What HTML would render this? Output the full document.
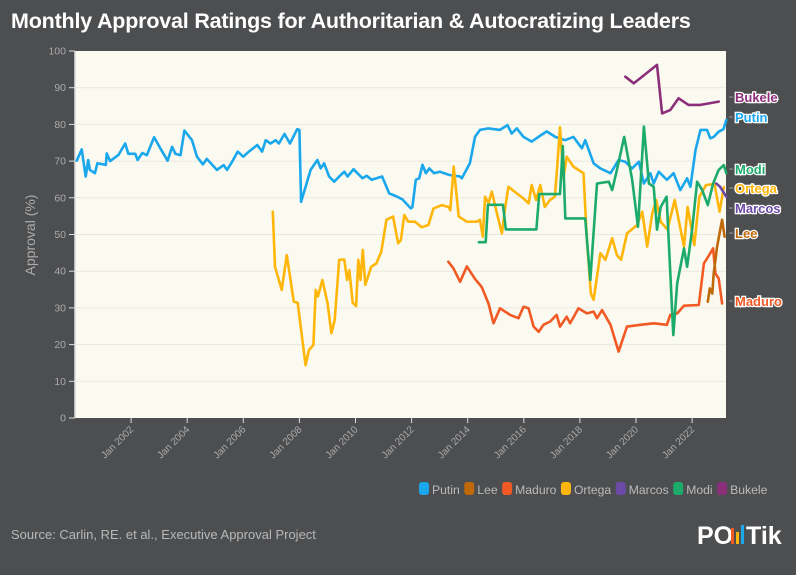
<!DOCTYPE html>
<html><head><meta charset="utf-8">
<style>
html,body{margin:0;padding:0;background:#4d4e50;}
body{width:796px;height:575px;overflow:hidden;position:relative;font-family:"Liberation Sans",sans-serif;}
#title{position:absolute;left:11px;top:9px;color:#fff;font-weight:bold;font-size:21.5px;letter-spacing:-0.2px;margin:0;}
#src{position:absolute;left:11px;top:527px;color:#b8b8b8;font-size:13px;}
</style></head>
<body>
<h1 id="title">Monthly Approval Ratings for Authoritarian &amp; Autocratizing Leaders</h1>
<svg id="chart" width="796" height="575" style="position:absolute;left:0;top:0"></svg>
<div id="src">Source: Carlin, RE. et al., Executive Approval Project</div>
<script>
const yTicks=[0,10,20,30,40,50,60,70,80,90,100];
const xTickYears=[2002,2004,2006,2008,2010,2012,2014,2016,2018,2020,2022];
const seriesNames=["Putin","Lee","Maduro","Ortega","Marcos","Modi","Bukele"];
const putinT=[2000.06,2000.24,2000.38,2000.47,2000.53,2000.71,2000.8,2001.1,2001.13,2001.25,2001.55,2001.79,2001.9,2002.15,2002.23,2002.4,2002.56,2002.82,2003.04,2003.3,2003.46,2003.58,2003.76,2003.9,2004.17,2004.35,2004.56,2004.7,2005.06,2005.3,2005.42,2005.6,2005.8,2006.0,2006.2,2006.5,2006.67,2006.8,2006.97,2007.15,2007.27,2007.47,2007.66,2007.92,2008.0,2008.06,2008.22,2008.4,2008.64,2008.76,2008.88,2009.06,2009.24,2009.42,2009.6,2009.72,2009.93,2010.25,2010.4,2010.58,2010.95,2011.2,2011.43,2011.67,2011.97,2012.03,2012.15,2012.27,2012.39,2012.51,2012.63,2012.8,2013.0,2013.35,2013.73,2013.79,2014.08,2014.26,2014.44,2014.74,2015.15,2015.42,2015.57,2015.75,2015.99,2016.28,2016.52,2016.82,2017.12,2017.47,2017.77,2018.07,2018.19,2018.49,2018.73,2019.09,2019.38,2019.62,2019.86,2020.1,2020.28,2020.51,2020.63,2020.81,2021.1,2021.34,2021.58,2021.82,2021.94,2022.12,2022.3,2022.53,2022.65,2022.77,2022.95,2023.12,2023.22];
const putinV=[70.1,73.2,65.8,70.3,67.6,66.7,69.4,69,72.1,70,71.7,74.8,72,72,70.3,72.2,71.6,76.5,73.5,70.1,73.9,72,71.6,78.3,75.7,71.2,69.1,70.6,67.6,68.9,67.6,69.8,72.6,71.2,72.6,74.4,72.6,75.7,74.8,75.7,74.8,77.4,74.8,78.7,78.5,58.9,63,67.6,70.3,68,69.4,65.8,64.4,65.8,67.1,65.8,67.8,65.3,66,64.9,65.8,61.2,60.5,59.6,57.1,57.5,64.9,65.3,69,66.7,68,66.7,67.1,66.2,65.8,65.3,69.4,76.6,78.5,78.9,78.5,79.8,77.5,78.9,76.6,75.3,76.6,78.1,76.6,75.7,76.6,73.5,75.7,69.4,68,66.7,70.3,69.8,68,69.8,63.9,66.7,63.9,67.1,64.9,66.7,62.1,65.3,63,73,78.5,78.5,76.2,76.6,78,78.7,81.2];
const ortegaT=[2007.05,2007.13,2007.37,2007.55,2007.8,2007.94,2008.22,2008.34,2008.5,2008.58,2008.66,2008.82,2009.0,2009.14,2009.26,2009.42,2009.6,2009.7,2009.78,2009.9,2010.02,2010.1,2010.18,2010.26,2010.35,2010.56,2010.74,2010.92,2011.1,2011.34,2011.52,2011.62,2011.74,2011.88,2012.12,2012.36,2012.6,2012.78,2013.08,2013.32,2013.38,2013.5,2013.68,2013.97,2014.32,2014.44,2014.54,2014.62,2014.74,2014.86,2015.04,2015.22,2015.34,2015.45,2015.75,2015.99,2016.17,2016.28,2016.44,2016.59,2016.75,2016.93,2017.11,2017.19,2017.29,2017.41,2017.53,2017.77,2018.13,2018.25,2018.39,2018.49,2018.73,2018.91,2019.15,2019.32,2019.47,2019.68,2020.04,2020.22,2020.4,2020.58,2020.72,2020.88,2021.12,2021.38,2021.71,2021.84,2022.08,2022.26,2022.5,2022.8,2022.98,2023.13];
const ortegaV=[56.2,41.2,34.9,44.4,31.7,31.4,14.4,18.5,19.9,34.9,33.1,37.6,31.4,23.1,26.7,43.1,43.2,37.6,40.3,31.4,30.5,43.1,37.6,45.8,36.3,41.2,42.1,45.3,54,54.9,47.6,48.5,55.3,53.5,53.5,52,52.6,57.1,58,57.5,56.6,68.5,54.9,53.5,53.5,54,49.4,60.3,58.5,61.7,55.8,50.3,57.5,63,61.2,59.8,58.5,63.5,59.4,63.5,57.5,59.4,60.3,68.5,79.2,65.3,71.2,68.5,66.7,48.5,34,32.2,44.9,43.1,49,44.4,43.1,50.3,52.6,56.2,46.7,55.8,59.4,53.5,51.3,59.4,46.7,57.5,47.1,60.3,63.5,63.7,56.2,62.9];
const modiT=[2014.4,2014.64,2014.72,2015.26,2015.36,2016.45,2016.55,2017.29,2017.39,2017.48,2018.19,2018.37,2018.61,2019.03,2019.15,2019.32,2019.58,2019.86,2020.07,2020.28,2020.46,2020.63,2020.75,2020.88,2021.09,2021.33,2021.47,2021.71,2021.82,2022.0,2022.18,2022.36,2022.56,2022.75,2022.95,2023.13,2023.22];
const modiV=[47.9,47.9,58.1,58.1,51.4,51.4,61,61,74.1,54.4,54.4,37.6,63.9,64.4,62.1,67.6,76.6,65,52.1,79.4,63.9,63,51.3,57.5,60.3,22.6,36.7,46.2,41.2,51.3,64.4,62.1,58,63.9,67.6,68.9,66.7];
const maduroT=[2013.31,2013.49,2013.73,2013.97,2014.26,2014.5,2014.74,2014.92,2015.15,2015.51,2015.81,2015.99,2016.17,2016.35,2016.53,2016.7,2016.94,2017.17,2017.29,2017.53,2017.65,2017.95,2018.25,2018.49,2018.61,2018.79,2019.09,2019.38,2019.68,2020.16,2020.63,2021.1,2021.22,2021.47,2021.71,2022.24,2022.42,2022.65,2022.75,2022.83,2022.95,2023.07];
const maduroV=[42.6,40.8,37.1,41.3,37.9,35.7,31.2,25.8,29.9,28.1,27.2,30.3,29.9,24.9,23.5,25.4,26.3,28.1,24.9,27.6,25.8,29.9,28.5,29,27.2,29.4,25.4,18.1,24.9,25.4,25.8,25.4,28.1,28.5,30.6,30.8,42.1,44.9,46.2,39.4,38,31.2];
const leeT=[2022.56,2022.63,2022.72,2022.77,2022.89,2023.07,2023.16];
const leeV=[31.7,35.3,33.9,39.4,46.7,54,49.4];
const marcosT=[2022.86,2023.0,2023.22];
const marcosV=[63.9,63,60.3];
const bukeleT=[2019.62,2019.92,2020.75,2020.93,2021.22,2021.52,2021.87,2022.3,2022.95];
const bukeleV=[93,91.2,96.2,83,83.9,87.1,85.3,85.3,86.2];

const NS="http://www.w3.org/2000/svg";
const svg=document.getElementById('chart');
const PL=75,PR=726,PT=51,PB=418;
const xS=t=>PL+(t-2000)*28.05;
const yS=v=>PB-v*(PB-PT)/100;
function mk(tag,at,parent){const e=document.createElementNS(NS,tag);for(const k in at)e.setAttribute(k,at[k]);(parent||svg).appendChild(e);return e;}

const bg=mk('rect',{x:PL,y:PT,width:PR-PL,height:PB-PT,fill:'#fbfaf1'});


yTicks.forEach(v=>{
  const y=yS(v);
  if(v>0&&v<100){const g=mk('line',{x1:PL,x2:PR,y1:y,y2:y,stroke:'#e9e8e0','stroke-width':1});
  
  }
  const tk=mk('line',{x1:PL-6,x2:PL,y1:y,y2:y,stroke:'#ddd','stroke-width':1});
  
  
  const t=mk('text',{x:PL-9,y:y+3.5,'text-anchor':'end',fill:'#aaa','font-size':10.5,'font-family':'Liberation Sans, sans-serif'});
  t.textContent=v;
  
  
});
const ax=mk('line',{x1:PL,x2:PL,y1:PT,y2:PB,stroke:'#ddd','stroke-width':1.5});


const yt=mk('text',{x:35,y:235,'text-anchor':'middle',fill:'#aaa','font-size':14,transform:'rotate(-90 35 235)','font-family':'Liberation Sans, sans-serif'});
yt.textContent='Approval (%)';


xTickYears.forEach(yr=>{
  const x=xS(yr);
  const tk=mk('line',{x1:x,x2:x,y1:PB,y2:PB+5,stroke:'#ddd','stroke-width':1});
  
  
  const t=mk('text',{x:x+3,y:PB+12,'text-anchor':'end',fill:'#aaa','font-size':10,transform:'rotate(-45 '+(x+3)+' '+(PB+12)+')','font-family':'Liberation Sans, sans-serif'});
  t.textContent='Jan '+yr;
  
  
});
const colors={Putin:'#1aa7ec',Lee:'#c0690a',Maduro:'#f15a24',Ortega:'#ffb60a',Marcos:'#6b4aa8',Modi:'#1dab6c',Bukele:'#8c2f7a'};
function line(name,T,V){
  const d=T.map((t,i)=>(i?'L':'M')+xS(t).toFixed(1)+','+yS(V[i]).toFixed(1)).join('');
  const p=mk('path',{d:d,fill:'none',stroke:colors[name],'stroke-width':2.6,'stroke-linejoin':'round','stroke-linecap':'round'});
  
  
}
line('Putin',putinT,putinV);
line('Ortega',ortegaT,ortegaV);
line('Maduro',maduroT,maduroV);
line('Modi',modiT,modiV);
line('Lee',leeT,leeV);
line('Marcos',marcosT,marcosV);
line('Bukele',bukeleT,bukeleV);

const labelY={Bukele:101,Putin:121,Modi:173,Ortega:192,Marcos:212,Lee:237,Maduro:305};
Object.keys(labelY).forEach(n=>{
  const c=mk('line',{x1:PR+3,x2:PR+7,y1:labelY[n]-4,y2:labelY[n]-4,stroke:'#999','stroke-width':1});
  
  
  const t=mk('text',{x:PR+9,y:labelY[n]+1,fill:colors[n],'font-size':13,'font-weight':'bold',stroke:'#fff','stroke-width':2.5,'paint-order':'stroke','font-family':'Liberation Sans, sans-serif'});
  t.textContent=n;
  
  
});

let lx=419;
seriesNames.forEach(n=>{
  const g=mk('g',{});
  
  
  mk('rect',{x:lx,y:482,width:10,height:13,rx:3,fill:colors[n]},g);
  const t=mk('text',{x:lx+13,y:494,fill:'#bbb','font-size':12.2,'font-family':'Liberation Sans, sans-serif'},g);
  t.textContent=n;
  const w=t.getComputedTextLength();
  lx+=13+w+4.5;
});

const logo=mk('g',{});


const lt1=mk('text',{x:697,y:544,fill:'#fff','font-size':25,'font-weight':'bold','font-family':'Liberation Sans, sans-serif'},logo);
lt1.textContent='PO';
mk('rect',{x:731,y:528,width:3,height:16,fill:'#f15a24'},logo);
mk('rect',{x:736,y:532,width:3,height:12,fill:'#ffb60a'},logo);
mk('rect',{x:741,y:525,width:3,height:19,fill:'#1aa7ec'},logo);
const lt2=mk('text',{x:746,y:544,fill:'#fff','font-size':25,'font-weight':'bold','font-family':'Liberation Sans, sans-serif'},logo);
lt2.textContent='Tik';
</script>
</body></html>
